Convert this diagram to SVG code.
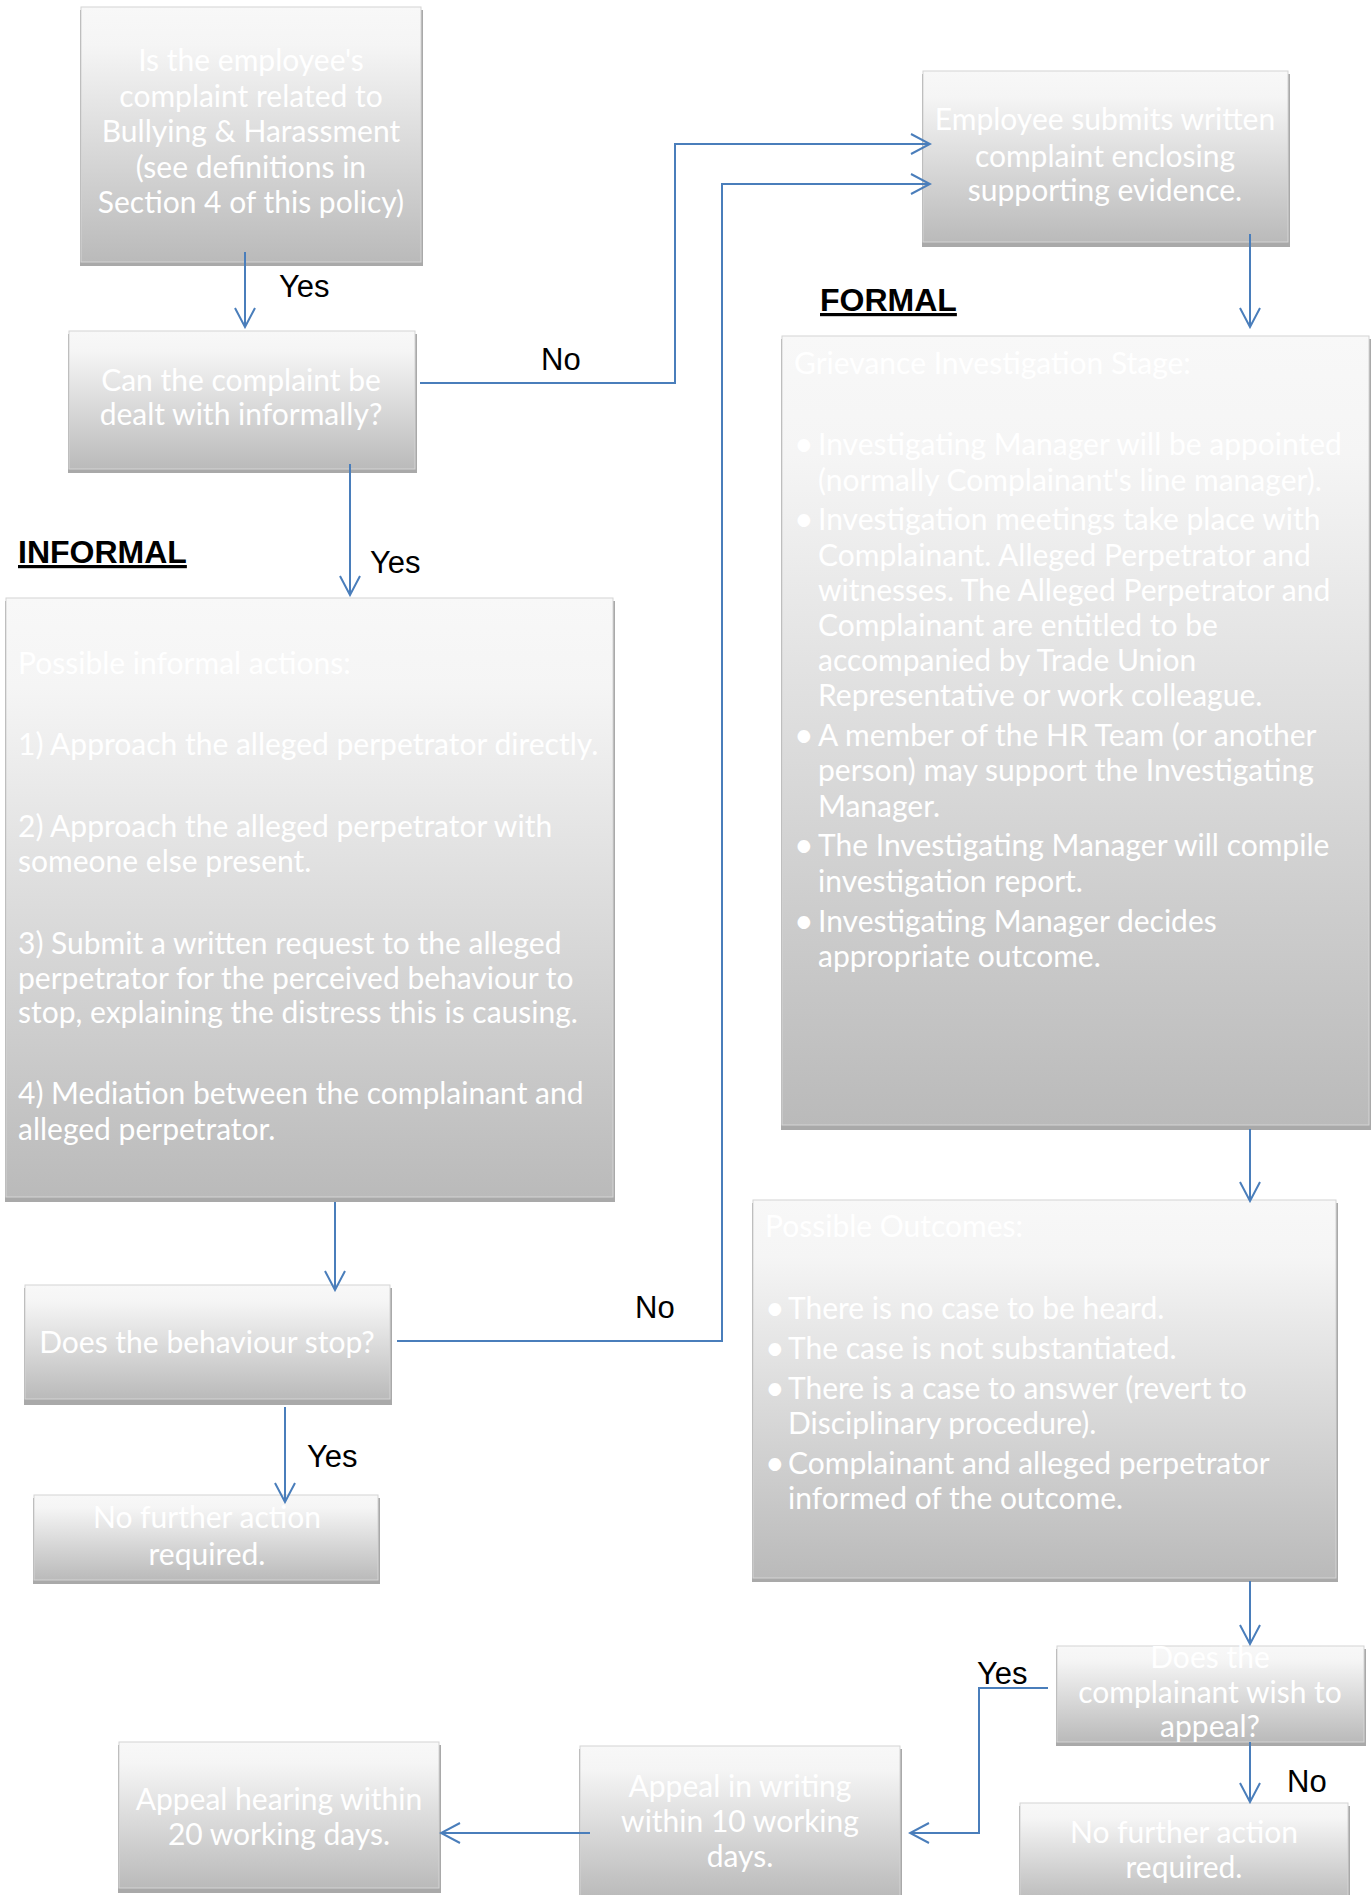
<svg xmlns="http://www.w3.org/2000/svg" width="1372" height="1895" viewBox="0 0 1372 1895">
<defs>
<linearGradient id="g" x1="0" y1="0" x2="0" y2="1">
<stop offset="0" stop-color="#f8f8f8"/>
<stop offset="0.15" stop-color="#f5f5f5"/>
<stop offset="1" stop-color="#bababa"/>
</linearGradient>
<marker id="ah" markerUnits="userSpaceOnUse" viewBox="-22 -12 24 24" markerWidth="24" markerHeight="24" refX="0" refY="0" orient="auto">
<path d="M-19,-10 L0,0 L-19,10" fill="none" stroke="#4a7ebb" stroke-width="2"/>
</marker>
<style>
.sh{fill:#a9a9a9}
.bx{fill:url(#g);stroke:#d4d4d4;stroke-width:1}
.t{font-family:Lato,"Open Sans","Liberation Sans",sans-serif;font-size:30px;fill:#ffffff}
.c{text-anchor:middle}
.bu{font-size:34px}
.lb{font-family:"Liberation Sans",Arial,sans-serif;font-size:31px;fill:#000000}
.hd{font-family:"Liberation Sans",Arial,sans-serif;font-size:32px;font-weight:bold;fill:#000000;text-decoration:underline}
.cn{fill:none;stroke:#4a7ebb;stroke-width:2}
</style>
</defs>
<rect width="1372" height="1895" fill="#ffffff"/>

<g id="box1">
<rect class="sh" x="80" y="10" width="343" height="256"/>
<rect class="bx" x="81" y="7" width="340" height="255"/>
<text class="t c"><tspan x="251" y="71">Is the employee's</tspan><tspan x="251" y="107">complaint related to</tspan><tspan x="251" y="142">Bullying &amp; Harassment</tspan><tspan x="251" y="178">(see definitions in</tspan><tspan x="251" y="213">Section 4 of this policy)</tspan></text>
</g>

<g id="box2">
<rect class="sh" x="68" y="334" width="349" height="139"/>
<rect class="bx" x="69" y="331" width="346" height="138"/>
<text class="t c"><tspan x="241" y="391">Can the complaint be</tspan><tspan x="241" y="425">dealt with informally?</tspan></text>
</g>

<g id="informal-label">
<text class="hd" x="18" y="563">INFORMAL</text>
</g>

<g id="informal">
<rect class="sh" x="5" y="601" width="610" height="601"/>
<rect class="bx" x="6" y="598" width="607" height="599"/>
<text class="t"><tspan x="18" y="674">Possible informal actions:</tspan><tspan x="18" y="755">1) Approach the alleged perpetrator directly.</tspan><tspan x="18" y="837">2) Approach the alleged perpetrator with</tspan><tspan x="18" y="872">someone else present.</tspan><tspan x="18" y="954">3) Submit a written request to the alleged</tspan><tspan x="18" y="989">perpetrator for the perceived behaviour to</tspan><tspan x="18" y="1023">stop, explaining the distress this is causing.</tspan><tspan x="18" y="1104">4) Mediation between the complainant and</tspan><tspan x="18" y="1140">alleged perpetrator.</tspan></text>
</g>

<g id="stop">
<rect class="sh" x="24" y="1288" width="368" height="117"/>
<rect class="bx" x="25" y="1285" width="365" height="114"/>
<text class="t c" x="207" y="1353">Does the behaviour stop?</text>
</g>

<g id="nfa-left">
<rect class="sh" x="33" y="1498" width="347" height="86"/>
<rect class="bx" x="34" y="1495" width="344" height="85"/>
<text class="t c"><tspan x="207" y="1528">No further action</tspan><tspan x="207" y="1565">required.</tspan></text>
</g>

<g id="employee">
<rect class="sh" x="922" y="74" width="368" height="173"/>
<rect class="bx" x="923" y="71" width="365" height="171"/>
<text class="t c"><tspan x="1105" y="130">Employee submits written</tspan><tspan x="1105" y="167">complaint enclosing</tspan><tspan x="1105" y="201">supporting evidence.</tspan></text>
</g>

<g id="formal-label">
<text class="hd" x="820" y="311">FORMAL</text>
</g>

<g id="grievance">
<rect class="sh" x="781" y="339" width="590" height="791"/>
<rect class="bx" x="782" y="336" width="587" height="789"/>
<text class="t"><tspan x="794" y="374">Grievance Investigation Stage:</tspan><tspan class="bu" x="794" y="456">•</tspan><tspan x="818" y="455">Investigating Manager will be appointed</tspan><tspan x="818" y="491">(normally Complainant's line manager).</tspan><tspan class="bu" x="794" y="531">•</tspan><tspan x="818" y="530">Investigation meetings take place with</tspan><tspan x="818" y="566">Complainant. Alleged Perpetrator and</tspan><tspan x="818" y="601">witnesses. The Alleged Perpetrator and</tspan><tspan x="818" y="636">Complainant are entitled to be</tspan><tspan x="818" y="671">accompanied by Trade Union</tspan><tspan x="818" y="706">Representative or work colleague.</tspan><tspan class="bu" x="794" y="747">•</tspan><tspan x="818" y="746">A member of the HR Team (or another</tspan><tspan x="818" y="781">person) may support the Investigating</tspan><tspan x="818" y="817">Manager.</tspan><tspan class="bu" x="794" y="857">•</tspan><tspan x="818" y="856">The Investigating Manager will compile</tspan><tspan x="818" y="892">investigation report.</tspan><tspan class="bu" x="794" y="933">•</tspan><tspan x="818" y="932">Investigating Manager decides</tspan><tspan x="818" y="967">appropriate outcome.</tspan></text>
</g>

<g id="outcomes">
<rect class="sh" x="752" y="1203" width="586" height="379"/>
<rect class="bx" x="753" y="1200" width="583" height="378"/>
<text class="t"><tspan x="765" y="1237">Possible Outcomes:</tspan><tspan class="bu" x="765" y="1320">•</tspan><tspan x="788" y="1319">There is no case to be heard.</tspan><tspan class="bu" x="765" y="1360">•</tspan><tspan x="788" y="1359">The case is not substantiated.</tspan><tspan class="bu" x="765" y="1400">•</tspan><tspan x="788" y="1399">There is a case to answer (revert to</tspan><tspan x="788" y="1434">Disciplinary procedure).</tspan><tspan class="bu" x="765" y="1475">•</tspan><tspan x="788" y="1474">Complainant and alleged perpetrator</tspan><tspan x="788" y="1509">informed of the outcome.</tspan></text>
</g>

<g id="appeal-q">
<rect class="sh" x="1056" y="1649" width="310" height="97"/>
<rect class="bx" x="1057" y="1646" width="307" height="96"/>
<text class="t c"><tspan x="1210" y="1668">Does the</tspan><tspan x="1210" y="1703">complainant wish to</tspan><tspan x="1210" y="1737">appeal?</tspan></text>
</g>

<g id="nfa-right">
<rect class="sh" x="1019" y="1806" width="331" height="100"/>
<rect class="bx" x="1020" y="1803" width="328" height="100"/>
<text class="t c"><tspan x="1184" y="1843">No further action</tspan><tspan x="1184" y="1878">required.</tspan></text>
</g>

<g id="appeal-writing">
<rect class="sh" x="579" y="1749" width="323" height="150"/>
<rect class="bx" x="580" y="1746" width="320" height="152"/>
<text class="t c"><tspan x="740" y="1797">Appeal in writing</tspan><tspan x="740" y="1832">within 10 working</tspan><tspan x="740" y="1867">days.</tspan></text>
</g>

<g id="appeal-hearing">
<rect class="sh" x="118" y="1745" width="323" height="148"/>
<rect class="bx" x="119" y="1742" width="320" height="146"/>
<text class="t c"><tspan x="279" y="1810">Appeal hearing within</tspan><tspan x="279" y="1845">20 working days.</tspan></text>
</g>

<g id="connectors">
<path class="cn" marker-end="url(#ah)" d="M245,252 V327"/>
<path class="cn" marker-end="url(#ah)" d="M420,383 H675 V144 H930"/>
<path class="cn" marker-end="url(#ah)" d="M350,464 V595"/>
<path class="cn" marker-end="url(#ah)" d="M335,1202 V1290"/>
<path class="cn" marker-end="url(#ah)" d="M397,1341 H722 V184 H930"/>
<path class="cn" marker-end="url(#ah)" d="M285,1407 V1502"/>
<path class="cn" marker-end="url(#ah)" d="M1250,234 V327"/>
<path class="cn" marker-end="url(#ah)" d="M1250,1129 V1201"/>
<path class="cn" marker-end="url(#ah)" d="M1250,1581 V1644"/>
<path class="cn" marker-end="url(#ah)" d="M1048,1688 H979 V1833 H910"/>
<path class="cn" marker-end="url(#ah)" d="M1250,1742 V1802"/>
<path class="cn" marker-end="url(#ah)" d="M590,1833 H441"/>
</g>

<g id="labels">
<text class="lb" x="279" y="297">Yes</text>
<text class="lb" x="541" y="370">No</text>
<text class="lb" x="370" y="573">Yes</text>
<text class="lb" x="635" y="1318">No</text>
<text class="lb" x="307" y="1467">Yes</text>
<text class="lb" x="977" y="1684">Yes</text>
<text class="lb" x="1287" y="1792">No</text>
</g>
</svg>
